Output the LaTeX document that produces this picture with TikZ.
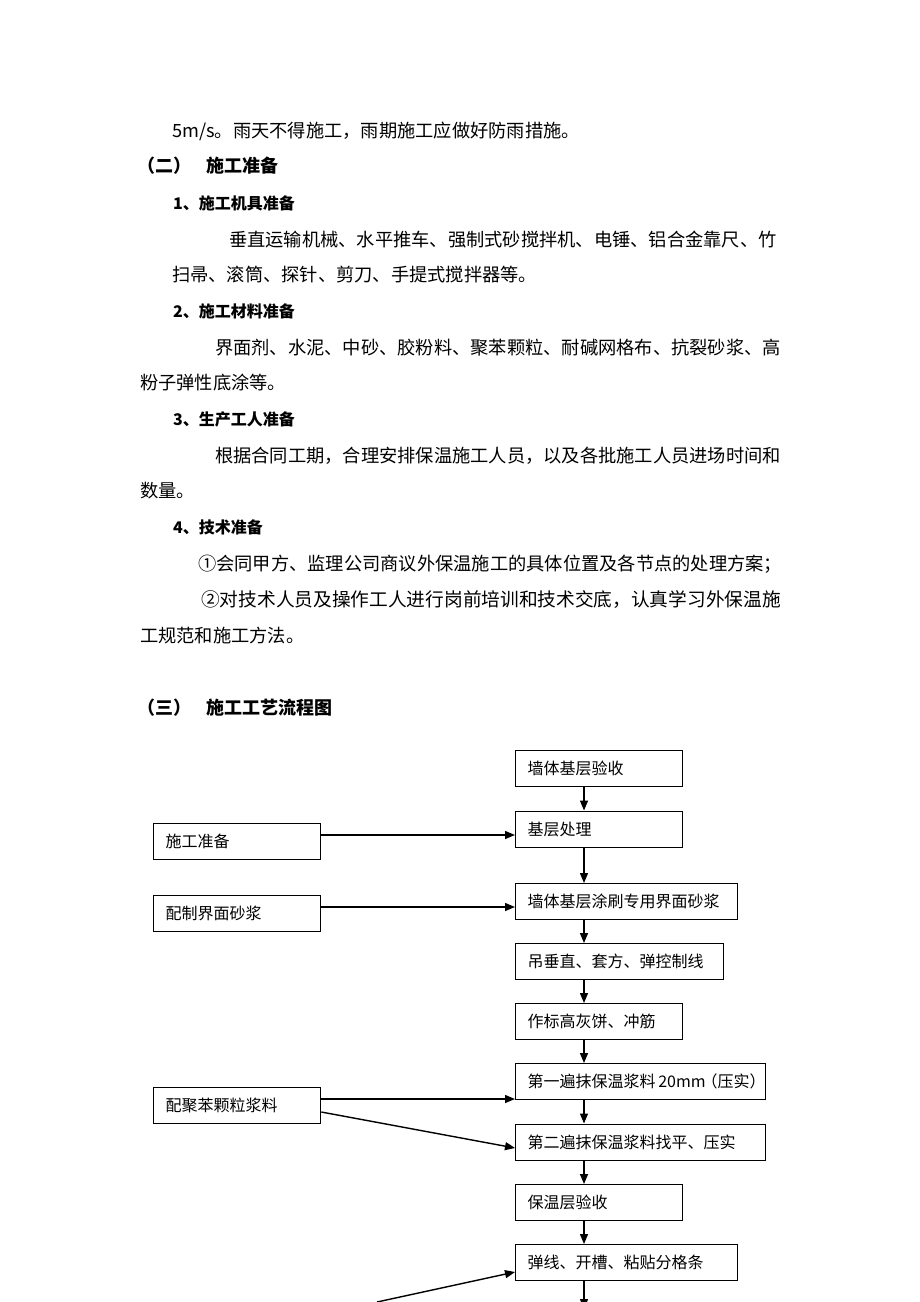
\documentclass[tikz,border=0pt]{standalone}
\usepackage{fontspec}
\newfontfamily\cjk{Noto Sans CJK SC}
\usetikzlibrary{arrows.meta}
\tikzset{
  bodytxt/.style={anchor=west, inner sep=0pt, font=\cjk\fontsize{18.25}{20}\selectfont},
  headtxt/.style={anchor=west, inner sep=0pt, font=\cjk\bfseries\fontsize{16}{18}\selectfont},
  sectxt/.style={anchor=west, inner sep=0pt, font=\cjk\bfseries\fontsize{18}{20}\selectfont},
  flowbox/.style={draw=black, line width=1.3pt, anchor=north west, minimum height=36pt,
    inner xsep=12pt, inner ysep=0pt, align=left, font=\cjk\fontsize{16}{18}\selectfont},
  arr/.style={draw=black, line width=1.4pt, -{Triangle[length=10pt,width=8pt]}},
}
\begin{document}
\begin{tikzpicture}[x=1pt,y=-1pt]
\useasboundingbox (0,0) rectangle (920,1302);
% ---- body text ----
\node[bodytxt] (t1) at (172,131) {5m/s。雨天不得施工，雨期施工应做好防雨措施。};
\node[sectxt] (s2a) at (137,166) {（二）};
\node[sectxt] (s2b) at (206,166) {施工准备};
\node[headtxt] (h1) at (173,203) {1、施工机具准备};
\node[bodytxt] (t2) at (229,240) {垂直运输机械、水平推车、强制式砂搅拌机、电锤、铝合金靠尺、竹};
\node[bodytxt] (t3) at (172,275) {扫帚、滚筒、探针、剪刀、手提式搅拌器等。};
\node[headtxt] (h2) at (173,311) {2、施工材料准备};
\node[bodytxt] (t4) at (215,348) {界面剂、水泥、中砂、胶粉料、聚苯颗粒、耐碱网格布、抗裂砂浆、高};
\node[bodytxt] (t5) at (140,383) {粉子弹性底涂等。};
\node[headtxt] (h3) at (173,419) {3、生产工人准备};
\node[bodytxt] (t6) at (215,456) {根据合同工期，合理安排保温施工人员，以及各批施工人员进场时间和};
\node[bodytxt] (t7) at (140,491) {数量。};
\node[headtxt] (h4) at (173,527) {4、技术准备};
\node[bodytxt] (t8) at (198,564) {①会同甲方、监理公司商议外保温施工的具体位置及各节点的处理方案；};
\node[bodytxt, font=\cjk\fontsize{18.7}{20}\selectfont] (t9) at (201,600) {②对技术人员及操作工人进行岗前培训和技术交底，认真学习外保温施};
\node[bodytxt] (t10) at (140,636) {工规范和施工方法。};
\node[sectxt] (s3a) at (137,708) {（三）};
\node[sectxt] (s3b) at (206,708) {施工工艺流程图};
% ---- flow chart boxes ----
\node[flowbox, text width=143pt] (b1) at (515,750) {墙体基层验收};
\node[flowbox, text width=143pt] (b2) at (515,810.5) {基层处理};
\node[flowbox, text width=143pt] (l1) at (153,823) {施工准备};
\node[flowbox, text width=198pt] (b3) at (515,883) {墙体基层涂刷专用界面砂浆};
\node[flowbox, text width=143pt] (l2) at (153,894.5) {配制界面砂浆};
\node[flowbox, text width=184pt] (b4) at (515,943) {吊垂直、套方、弹控制线};
\node[flowbox, text width=143pt] (b5) at (515,1003) {作标高灰饼、冲筋};
\node[flowbox, text width=226pt] (b6) at (515,1063) {\mbox{第一遍抹保温浆料\,20mm\hspace{-4pt}（压实）}};
\node[flowbox, text width=143pt] (l3) at (153,1087) {配聚苯颗粒浆料};
\node[flowbox, text width=226pt] (b7) at (515,1123.5) {第二遍抹保温浆料找平、压实};
\node[flowbox, text width=143pt] (b8) at (515,1184) {保温层验收};
\node[flowbox, text width=198pt] (b9) at (515,1244) {弹线、开槽、粘贴分格条};
% ---- helper coordinates ----
\coordinate (ax) at (584,0);
\coordinate (y1) at (0,835);
\coordinate (y2) at (0,907);
\coordinate (y3) at (0,1099);
\coordinate (d1) at (0,1112);
\coordinate (d2) at (0,1148);
\coordinate (d3) at (0,1272);
\coordinate (fin) at (377,1302);
\coordinate (fout) at (584,1309);
% ---- vertical arrows ----
\draw[arr] (b1.south -| ax) -- (b2.north -| ax);
\draw[arr] (b2.south -| ax) -- (b3.north -| ax);
\draw[arr] (b3.south -| ax) -- (b4.north -| ax);
\draw[arr] (b4.south -| ax) -- (b5.north -| ax);
\draw[arr] (b5.south -| ax) -- (b6.north -| ax);
\draw[arr] (b6.south -| ax) -- (b7.north -| ax);
\draw[arr] (b7.south -| ax) -- (b8.north -| ax);
\draw[arr] (b8.south -| ax) -- (b9.north -| ax);
% ---- side arrows ----
\draw[arr] (l1.east |- y1) -- (b2.west |- y1);
\draw[arr] (l2.east |- y2) -- (b3.west |- y2);
\draw[arr] (l3.east |- y3) -- (b6.west |- y3);
\draw[arr] (l3.east |- d1) -- (b7.west |- d2);
\begin{scope}
\clip (0,0) rectangle (920,1302);
\draw[arr] (fin) -- (b9.west |- d3);
\draw[arr] (b9.south -| ax) -- (fout);
\end{scope}
\end{tikzpicture}
\end{document}
